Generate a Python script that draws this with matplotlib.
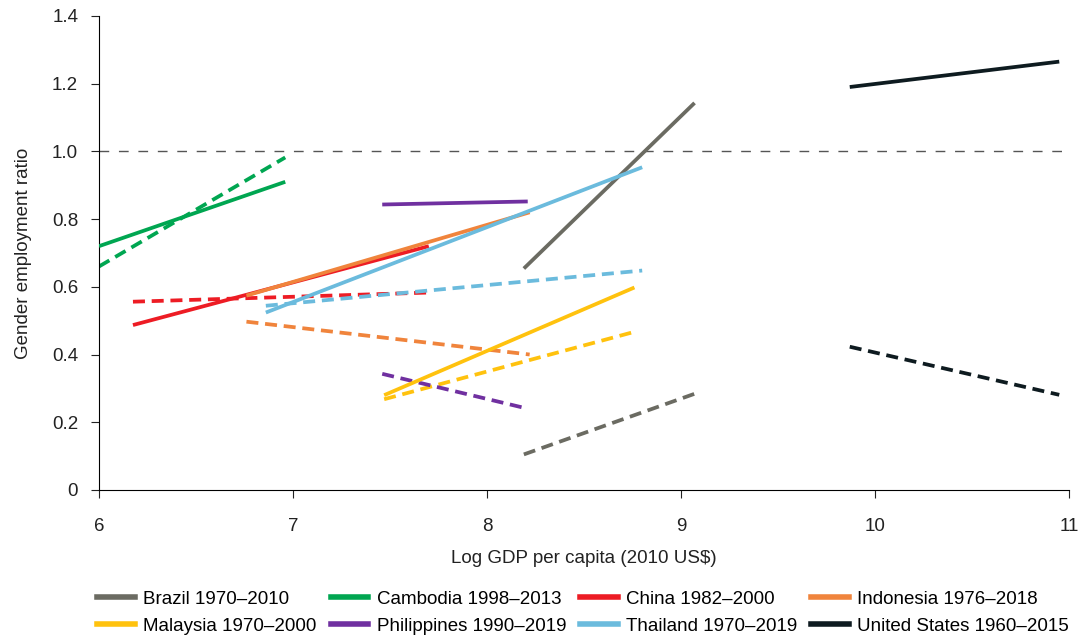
import matplotlib

matplotlib.use("Agg")
import matplotlib.pyplot as plt
from matplotlib.lines import Line2D

plt.rcParams["font.family"] = ["Liberation Sans", "DejaVu Sans"]

countries = [
    "Brazil 1970–2010", "Cambodia 1998–2013", "China 1982–2000", "Indonesia 1976–2018",
    "Malaysia 1970–2000", "Philippines 1990–2019", "Thailand 1970–2019", "United States 1960–2015",
]
colors = ["#6b6b62", "#00a651", "#ed1c24", "#f0843c", "#ffc20e", "#7030a0", "#6bbbdd", "#0e1b20"]

# start/end log GDP per capita
x_start = [8.19, 6.0, 6.175, 6.76, 7.47, 7.46, 6.86, 9.87]
x_end = [9.07, 6.96, 7.70, 8.22, 8.76, 8.21, 8.80, 10.95]
# solid lines
solid_start = [0.654, 0.72, 0.487, 0.574, 0.28, 0.843, 0.524, 1.19]
solid_end = [1.143, 0.91, 0.72, 0.82, 0.598, 0.852, 0.953, 1.265]
# dashed lines
dash_start = [0.105, 0.66, 0.556, 0.497, 0.268, 0.343, 0.544, 0.423]
dash_end = [0.284, 0.982, 0.583, 0.40, 0.467, 0.24, 0.648, 0.281]

fig = plt.figure(figsize=(10.88, 6.36), dpi=100)
ax = fig.add_axes([0.091, 0.2296, 0.8915, 0.7454])

ax.axhline(1.0, color="#555555", linestyle=(0, (7, 7)), linewidth=1.0, zorder=1)

for i in range(len(countries)):
    ax.plot([x_start[i], x_end[i]], [dash_start[i], dash_end[i]], color=colors[i],
            linewidth=2.7, dashes=(3.2, 1.8), solid_capstyle="butt", zorder=2)
for i in range(len(countries)):
    ax.plot([x_start[i], x_end[i]], [solid_start[i], solid_end[i]], color=colors[i],
            linewidth=2.7, solid_capstyle="butt", zorder=3)

ax.set_xlim(6, 11)
ax.set_ylim(0, 1.4)
ax.set_xticks([6, 7, 8, 9, 10, 11])
ax.set_yticks([0, 0.2, 0.4, 0.6, 0.8, 1.0, 1.2, 1.4])
ax.set_yticklabels(["0", "0.2", "0.4", "0.6", "0.8", "1.0", "1.2", "1.4"])
ax.spines["top"].set_visible(False)
ax.spines["right"].set_visible(False)
ax.tick_params(labelsize=13.5, length=6, color="#222222", labelcolor="#222222")
ax.tick_params(axis="x", pad=14)
ax.tick_params(axis="y", pad=9)
ax.set_xlabel("Log GDP per capita (2010 US$)", fontsize=13.5, color="#222222", labelpad=11)
ax.set_ylabel("Gender employment ratio", fontsize=13.5, color="#222222", labelpad=14)

# legend fills column by column, so reorder to read across rows
order = [0, 4, 1, 5, 2, 6, 3, 7]
handles = [Line2D([0], [0], color=colors[i], linewidth=4) for i in order]
labels = [countries[i] for i in order]
fig.legend(handles, labels, loc="lower center", bbox_to_anchor=(0.536, -0.025), ncol=4,
           frameon=False, fontsize=13.5, handlelength=2.0, handletextpad=0.45,
           columnspacing=0.75, labelspacing=0.55)

fig.savefig("out.png", dpi=100)
